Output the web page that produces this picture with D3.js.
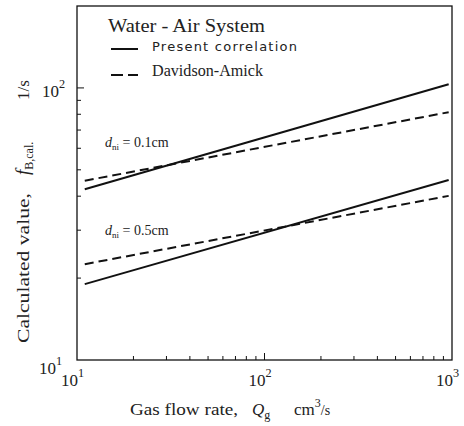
<!DOCTYPE html>
<html><head><meta charset="utf-8">
<script src="https://cdn.jsdelivr.net/npm/d3@7"></script>
<style>body{margin:0;background:#fff}svg{display:block}</style>
</head><body>
<script>
const qRange = [11, 960];
const presentSmall = [42.4, 103.2];   // d_ni = 0.1 cm, Present correlation
const davidsonSmall = [45.6, 81.4];   // d_ni = 0.1 cm, Davidson-Amick
const presentLarge = [19.0, 45.9];    // d_ni = 0.5 cm
const davidsonLarge = [22.5, 40.1];
const xDomain = [10, 1000];
const yDomain = [10, 200];
const xMajor = [10, 100, 1000];
const yMajor = [10, 100];

const W = 464, H = 426;
const L = 77, R = 452, T = 6, B = 360;
const svg = d3.select("body").append("svg").attr("width", W).attr("height", H);
const x = d3.scaleLog().domain(xDomain).range([L, R]);
const y = d3.scaleLog().domain(yDomain).range([B, T]);
const serif = "Liberation Serif";

// frame
svg.append("rect").attr("x", L).attr("y", T).attr("width", R - L).attr("height", B - T)
  .attr("fill", "none").attr("stroke", "#111").attr("stroke-width", 1.3);

// ticks (inward)
const xt = x.ticks().filter(v => v > xDomain[0] && v < xDomain[1]);
svg.append("g").selectAll("line").data(xt).join("line")
  .attr("x1", d => x(d)).attr("x2", d => x(d)).attr("y1", B)
  .attr("y2", d => B - (xMajor.includes(d) ? 7 : 4))
  .attr("stroke", "#111").attr("stroke-width", 1);
const yt = y.ticks().filter(v => v > yDomain[0] && v < yDomain[1]);
svg.append("g").selectAll("line").data(yt).join("line")
  .attr("y1", d => y(d)).attr("y2", d => y(d)).attr("x1", L)
  .attr("x2", d => L + (yMajor.includes(d) ? 7 : 4))
  .attr("stroke", "#111").attr("stroke-width", 1);

function pow10(g, xx, yy, exp, size) {
  const t = g.append("text").attr("x", xx).attr("y", yy).attr("font-family", serif)
    .attr("font-size", size).attr("fill", "#222");
  t.append("tspan").text("10");
  t.append("tspan").attr("dy", -9).attr("font-size", size * 0.72).text(exp);
}
xMajor.forEach(v => pow10(svg, x(v) - 16, 386, String(Math.round(Math.log10(v))), 17));
yMajor.forEach(v => pow10(svg, v === 10 ? 39 : 42, y(v) + (v === 10 ? 14 : 9), String(Math.round(Math.log10(v))), 17));

// lines
const line = d3.line().x(d => x(d[0])).y(d => y(d[1]));
const series = [
  {v: presentSmall, dash: null},
  {v: davidsonSmall, dash: "9,5"},
  {v: presentLarge, dash: null},
  {v: davidsonLarge, dash: "9,5"}
];
series.forEach(s => {
  svg.append("path").datum(qRange.map((q, i) => [q, s.v[i]]))
    .attr("d", line).attr("fill", "none").attr("stroke", "#111")
    .attr("stroke-width", 2).attr("stroke-dasharray", s.dash);
});

// legend
svg.append("text").attr("x", 108).attr("y", 32).attr("font-family", serif).attr("font-size", 18)
  .attr("fill", "#222").attr("textLength", 157).attr("lengthAdjust", "spacingAndGlyphs").text("Water - Air System");
svg.append("line").attr("x1", 111).attr("x2", 138).attr("y1", 49).attr("y2", 49)
  .attr("stroke", "#111").attr("stroke-width", 2);
svg.append("line").attr("x1", 111).attr("x2", 138).attr("y1", 75).attr("y2", 75)
  .attr("stroke", "#111").attr("stroke-width", 2).attr("stroke-dasharray", "12,5");
svg.append("text").attr("x", 152).attr("y", 51).attr("font-family", "DejaVu Sans").attr("font-size", 13)
  .attr("fill", "#222").attr("textLength", 145).text("Present correlation");
svg.append("text").attr("x", 152).attr("y", 76).attr("font-family", serif).attr("font-size", 17)
  .attr("fill", "#222").attr("textLength", 111).attr("lengthAdjust", "spacingAndGlyphs").text("Davidson-Amick");

// annotations
function dni(yy, val) {
  const t = svg.append("text").attr("x", 105).attr("y", yy).attr("font-family", serif)
    .attr("font-size", 14).attr("fill", "#222");
  t.append("tspan").attr("font-style", "italic").text("d");
  t.append("tspan").attr("dy", 3).attr("font-size", 9).text("ni");
  t.append("tspan").attr("dy", -3).text(" = " + val + "cm");
}
dni(147, "0.1");
dni(235, "0.5");

// x axis label
const xl = svg.append("text").attr("x", 130).attr("y", 415).attr("font-family", serif)
  .attr("font-size", 17).attr("fill", "#222");
xl.append("tspan").attr("textLength", 108).attr("lengthAdjust", "spacingAndGlyphs").text("Gas flow rate,");
xl.append("tspan").attr("x", 252).attr("font-style", "italic").text("Q");
xl.append("tspan").attr("dy", 4).attr("font-size", 12).text("g");
xl.append("tspan").attr("dy", -4).attr("x", 294).text("cm");
xl.append("tspan").attr("dy", -8).attr("font-size", 12).text("3");
xl.append("tspan").attr("dy", 8).attr("font-size", 14).text("/s");

// y axis label
const yl = svg.append("text").attr("transform", "translate(29,343) rotate(-90)")
  .attr("font-family", serif).attr("font-size", 17).attr("fill", "#222");
yl.append("tspan").attr("x", 0).attr("textLength", 150).attr("lengthAdjust", "spacingAndGlyphs").text("Calculated value,");
yl.append("tspan").attr("x", 168).attr("font-style", "italic").attr("font-size", 19).text("f");
yl.append("tspan").attr("dy", 4).attr("font-size", 12).text("B,cal.");
yl.append("tspan").attr("dy", -4).attr("x", 243).text("1/s");
</script>
</body></html>
